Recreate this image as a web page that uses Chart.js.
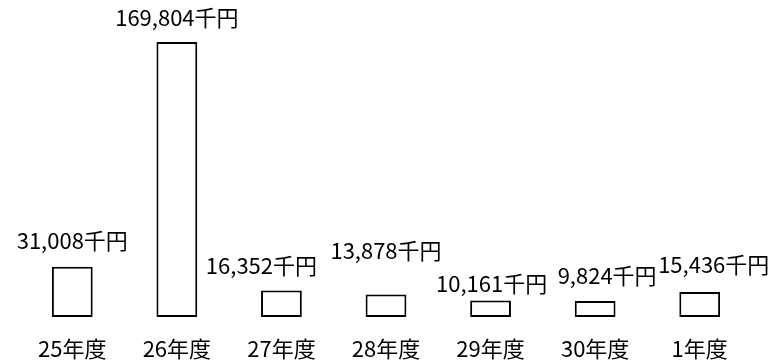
<!DOCTYPE html>
<html lang="ja">
<head>
<meta charset="utf-8">
<script src="https://cdn.jsdelivr.net/npm/chart.js@4.4.1/dist/chart.umd.min.js"></script>
<style>
  html, body { margin: 0; padding: 0; background: #fff; }
  #wrap { width: 771px; height: 361px; }
</style>
</head>
<body>
<div id="wrap"><canvas id="costChart"></canvas></div>
<script>
// Yearly amounts (thousand yen)
const years = ["25年度", "26年度", "27年度", "28年度", "29年度", "30年度", "1年度"];
const amounts = [31008, 169804, 16352, 13878, 10161, 9824, 15436];

// Hand-placed label nudges [dx, dy] relative to each bar top
const labelNudge = [[0, -18], [0, -16], [-20, -17], [0, -36], [1, -9], [12, -17], [14, -19]];

const FONT = '"Noto Sans CJK JP", "Noto Sans", sans-serif';

const valueLabels = {
  id: "valueLabels",
  afterDatasetsDraw(chart) {
    const ctx = chart.ctx;
    const meta = chart.getDatasetMeta(0);
    ctx.save();
    ctx.font = `22px ${FONT}`;
    ctx.fillStyle = "#000";
    ctx.textAlign = "center";
    ctx.textBaseline = "alphabetic";
    meta.data.forEach((bar, i) => {
      const [dx, dy] = labelNudge[i];
      const text = amounts[i].toLocaleString("en-US") + "千円";
      ctx.fillText(text, bar.x + dx, bar.y + dy);
    });
    ctx.restore();
  },
};

new Chart(document.getElementById("costChart"), {
  type: "bar",
  data: {
    labels: years,
    datasets: [
      {
        data: amounts,
        backgroundColor: "#fff",
        borderColor: "#000",
        borderWidth: 2,
        borderSkipped: false,
        categoryPercentage: 1,
        barPercentage: 0.39,
      },
    ],
  },
  options: {
    responsive: true,
    maintainAspectRatio: false,
    animation: false,
    layout: { padding: { top: 42, left: 20, right: 19, bottom: 0 } },
    plugins: {
      legend: { display: false },
      tooltip: { enabled: false },
    },
    scales: {
      y: { display: false, min: 0, max: 169804 },
      x: {
        grid: { display: false },
        border: { display: false },
        afterFit(scale) {
          scale.height = 44;
        },
        ticks: {
          color: "#000",
          font: { family: FONT, size: 22 },
          padding: 10,
          maxRotation: 0,
        },
      },
    },
  },
  plugins: [valueLabels],
});
</script>
</body>
</html>
